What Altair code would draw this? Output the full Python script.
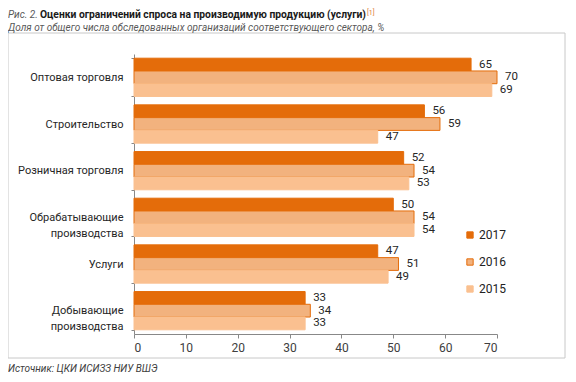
import altair as alt
import pandas as pd

# ---- data ----
categories = ["Оптовая торговля", "Строительство ", "Розничная торговля",
              "Обрабатывающие|производства", "Услуги ", "Добывающие|производства"]
years = ["2017", "2016", "2015"]
v2017 = [65, 56, 52, 50, 47, 33]
v2016 = [70, 59, 54, 54, 51, 34]
v2015 = [69, 47, 53, 54, 49, 33]
x_ticks = [0, 10, 20, 30, 40, 50, 60, 70]

fig_label = ["Рис. 2."]
title_text = ["Оценки ограничений спроса на производимую продукцию (услуги)"]
note_text = ["[1]"]
subtitle_text = ["Доля от общего числа обследованных организаций соответствующего сектора, %"]
source_text = ["Источник: ЦКИ ИСИЗЗ НИУ ВШЭ"]

fill_colors = ["#E46C0A", "#F2B27E", "#FAC090"]
stroke_colors = ["#E46C0A", "#E46C0A", "#FAC090"]

rows = []
for c, a, b, d in zip(categories, v2017, v2016, v2015):
    rows.append({"cat": c, "year": "2017", "value": a})
    rows.append({"cat": c, "year": "2016", "value": b})
    rows.append({"cat": c, "year": "2015", "value": d})
df = pd.DataFrame(rows)

FONT = "Roboto"

legend_cfg = alt.Legend(
    title=None, orient="none", legendX=330, legendY=175,
    symbolType="square", symbolSize=40, symbolStrokeWidth=1,
    labelFontSize=12, labelFont=FONT, labelColor="#222222",
    rowPadding=15, padding=0, labelOffset=3,
)

y_enc = alt.Y("cat:N", sort=categories,
              scale=alt.Scale(paddingInner=0.18, paddingOuter=0.09),
              axis=alt.Axis(title=None, labelExpr="split(datum.label, '|')",
                            tickBand="extent", labelFont=FONT, labelFontSize=11,
                            labelColor="#262626", labelPadding=8, tickSize=3,
                            domainColor="#888888", tickColor="#888888",
                            labelLineHeight=16))
yoff_enc = alt.YOffset("year:N", sort=years, scale=alt.Scale(domain=years))
x_enc = alt.X("value:Q", scale=alt.Scale(domain=[0, 70], nice=False),
              axis=alt.Axis(title=None, values=x_ticks, grid=False,
                            labelFont=FONT, labelFontSize=12, labelColor="#404040",
                            tickSize=4, labelPadding=4,
                            domainColor="#888888", tickColor="#888888"))

bars = alt.Chart(df).mark_bar(strokeWidth=1).encode(
    y=y_enc, yOffset=yoff_enc, x=x_enc,
    fill=alt.Fill("year:N", sort=years, scale=alt.Scale(domain=years, range=fill_colors), legend=legend_cfg),
    stroke=alt.Stroke("year:N", sort=years, scale=alt.Scale(domain=years, range=stroke_colors), legend=legend_cfg),
)

labels = alt.Chart(df).mark_text(align="left", baseline="middle", dx=8,
                                 font=FONT, fontSize=11.5, color="#262626").encode(
    y=alt.Y("cat:N", sort=categories), yOffset=alt.YOffset("year:N", sort=years),
    x="value:Q", text="value:Q",
)

def note(txt, x, y, **kw):
    return alt.Chart(pd.DataFrame({"t": txt})).mark_text(
        align="left", baseline="alphabetic", font=FONT, **kw
    ).encode(text="t:N", x=alt.value(x), y=alt.value(y))

frame = alt.Chart(pd.DataFrame({"t": [1]})).mark_rect(
    fillOpacity=0, stroke="#c8c8c8", strokeWidth=1
).encode(x=alt.value(-126), x2=alt.value(431), y=alt.value(-21), y2=alt.value(304))

t1 = note(fig_label, -126, -36, fontSize=10, fontStyle="italic", color="#595959")
t2 = note(title_text, -94, -36, fontSize=10.3, fontWeight="bold", color="#1a1a1a")
t3 = note(note_text, 233, -39, fontSize=7, color="#E07B39")
t4 = note(subtitle_text, -126, -23, fontSize=10, fontStyle="italic", color="#595959")
t5 = note(source_text, -126, 318, fontSize=10, fontStyle="italic", color="#404040")

chart = alt.layer(frame, bars, labels, t1, t2, t3, t4, t5).properties(
    width=363, height=280,
    autosize=alt.AutoSizeParams(type="none"),
    padding={"left": 126, "top": 46, "right": 71, "bottom": 40},
).configure_view(strokeWidth=0).resolve_scale(x="shared", y="shared")

chart.save("out.html", embed_options={"renderer": "svg", "actions": False})
